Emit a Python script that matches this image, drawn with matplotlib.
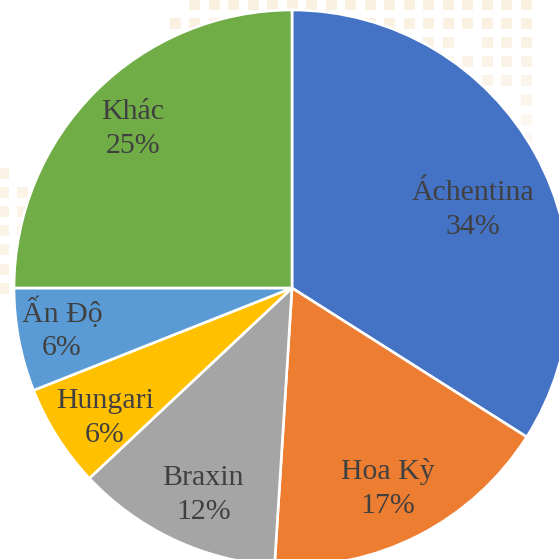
import numpy as np
import matplotlib
matplotlib.use("Agg")
import matplotlib.pyplot as plt
from matplotlib.patches import Rectangle

# Share of each supplier
labels = ["Áchentina", "Hoa Kỳ", "Braxin", "Hungari", "Ấn Độ", "Khác"]
shares = [34, 17, 12, 6, 6, 25]
colors = ["#4472C4", "#ED7D31", "#A5A5A5", "#FFC000", "#5B9BD5", "#70AD47"]

# Label placement inside each wedge (radius fraction, angular nudge in degrees)
label_r = [0.71, 0.80, 0.81, 0.82, 0.84, 0.81]
label_shift = [-5.5, -1.4, 2.0, 2.3, -0.8, 0.0]

W = H = 559
fig = plt.figure(figsize=(W / 100, H / 100), dpi=100)
fig.patch.set_facecolor("white")

# Decorative pale tile pattern behind the pie
tile_color = "#F8EBD6"
top_mask = [
    ".##################",
    "###################",
    "##.#######.####.###",
    "##.######.###.#####",
    "#.#####.#####.#.###",
    ".#.###.#####.#.##.#",
    "..#.#.###.#.##.#.##",
    "...#.#.##.#..#.#..#",
]
tile = 11
for r, row in enumerate(top_mask):
    for c, ch in enumerate(row):
        if ch == "#":
            cx = 175 + 19.5 * c
            cy = 4 + 19.2 * r
            alpha = 0.75 - 0.06 * r
            fig.patches.append(Rectangle(((cx - tile / 2) / W, 1 - (cy + tile / 2) / H),
                                         tile / W, tile / H, transform=fig.transFigure,
                                         facecolor=tile_color, edgecolor="none",
                                         alpha=alpha, zorder=0))
left_mask = [
    "#.",
    "##",
    "##",
    "##",
    "#.",
    "#.",
    "#.",
]
for r, row in enumerate(left_mask):
    for c, ch in enumerate(row):
        if ch == "#":
            cx = 3 + 19 * c
            cy = 173 + 19.2 * r
            fig.patches.append(Rectangle(((cx - tile / 2) / W, 1 - (cy + tile / 2) / H),
                                         tile / W, tile / H, transform=fig.transFigure,
                                         facecolor=tile_color, edgecolor="none",
                                         alpha=0.6, zorder=0))

# Pie axes: centre at (292, 288) px, radius 278 px (slightly cropped at right/bottom)
cx_px, cy_px, R = 292, 288, 278
ax = fig.add_axes([(cx_px - R) / W, (H - cy_px - R) / H, 2 * R / W, 2 * R / H])
ax.set_zorder(2)
ax.set_facecolor("none")

wedges, _ = ax.pie(shares, colors=colors, startangle=90, counterclock=False,
                   radius=1.0,
                   wedgeprops=dict(edgecolor="white", linewidth=1.9))
ax.set_xlim(-1, 1)
ax.set_ylim(-1, 1)
ax.set_aspect("auto")
ax.axis("off")

for w, lab, v, rr, sh in zip(wedges, labels, shares, label_r, label_shift):
    ang = np.deg2rad((w.theta1 + w.theta2) / 2 + sh)
    ax.text(rr * np.cos(ang), rr * np.sin(ang), f"{lab}\n{v}%",
            ha="center", va="center", fontsize=21.5, color="#404040",
            family=["Liberation Serif", "DejaVu Serif"], linespacing=1.38)

fig.savefig("out.png", dpi=100, facecolor="white")
